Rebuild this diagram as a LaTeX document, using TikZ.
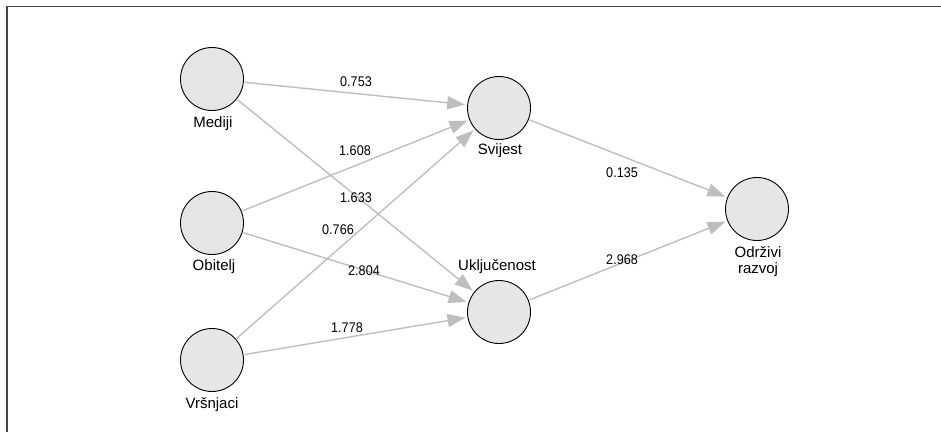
\documentclass[tikz,border=0pt]{standalone}
\usepackage{fontspec}
\setmainfont{Liberation Sans}
\newfontfamily\namefont{Liberation Sans}
\newfontfamily\numfont[FakeStretch=0.9]{Liberation Sans}
\usepackage{xcolor}
\definecolor{nodegray}{RGB}{230,230,230}
\definecolor{edgegray}{RGB}{190,190,192}
\definecolor{framegray}{RGB}{70,70,70}
\usetikzlibrary{arrows.meta,positioning}

\begin{document}
\begin{tikzpicture}[x=1pt, y=-1pt,
  lv/.style={circle, draw=black, line width=0.9pt, fill=nodegray,
             minimum size=63pt, inner sep=0pt},
  nlab/.style={font=\namefont\fontsize{15}{16}\selectfont, inner sep=0pt,
               anchor=base, align=center},
  wlab/.style={font=\numfont\fontsize{14}{16}\selectfont, inner sep=0pt, anchor=base},
  parr/.style={-{Triangle[length=18pt,width=13pt]}, line width=1.4pt,
               draw=edgegray, shorten >=2pt, shorten <=1pt}
]
\useasboundingbox (0,0) rectangle (941,432);
% Frame
\draw[framegray, line width=1.8pt] (7,432) -- (7,6.5) -- (941,6.5);

% Latent variables
\node[lv] (med) at (212, 79) {};
\node[lv] (obi) at (212,223) {};
\node[lv] (vrs) at (212,360) {};
\node[lv] (svi) at (499,108) {};
\node[lv] (ukl) at (499,312) {};
\node[lv] (odr) at (757,209) {};

% Names
\node[nlab] (medname) at (213,127)   {Mediji};
\node[nlab] (obiname) at (214,270.5) {Obitelj};
\node[nlab] (vrsname) at (212,408)   {Vršnjaci};
\node[nlab] (sviname) at (500,154)   {Svijest};
\node[nlab] (uklname) at (497,270)   {Uključenost};
\node[nlab] (odrname) at (758,273.5) {Održivi\\razvoj};

% Paths
\draw[parr] (med) -- (svi);
\draw[parr] (med) -- (ukl);
\draw[parr] (obi) -- (svi);
\draw[parr] (obi) -- (ukl);
\draw[parr] (vrs) -- (svi);
\draw[parr] (vrs) -- (ukl);
\draw[parr] (svi) -- (odr);
\draw[parr] (ukl) -- (odr);

% Path weights
\node[wlab] (wms) at (356, 86.5) {0.753};
\node[wlab] (wos) at (355,155)   {1.608};
\node[wlab] (wmu) at (356,202)   {1.633};
\node[wlab] (wvs) at (338,234)   {0.766};
\node[wlab] (wou) at (364,275.5) {2.804};
\node[wlab] (wvu) at (347,332)   {1.778};
\node[wlab] (wso) at (622,177)   {0.135};
\node[wlab] (wuo) at (622,264)   {2.968};
\end{tikzpicture}
\end{document}
